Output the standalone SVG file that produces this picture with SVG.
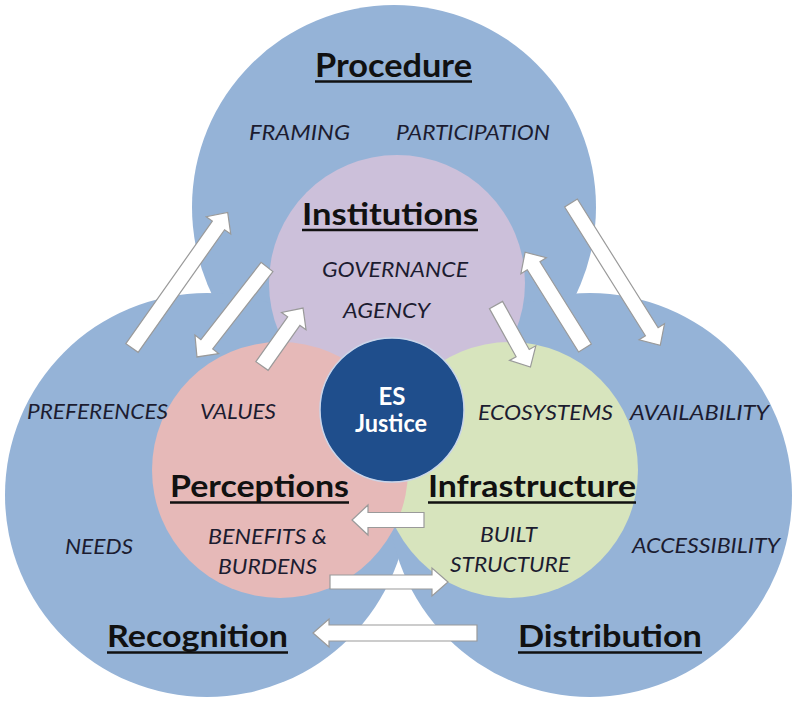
<svg xmlns="http://www.w3.org/2000/svg" width="795" height="702" viewBox="0 0 795 702">
<style>
.blue{fill:#95b3d7}
.title{font-family:Lato,"Open Sans","Liberation Sans",sans-serif;font-weight:bold;font-size:30px;fill:#111}
.lab{font-family:Lato,"Open Sans","Liberation Sans",sans-serif;font-style:italic;font-size:21px;fill:#1c1c30}
.ul{stroke:#111;stroke-width:2.5}
.arr{fill:#fff;stroke:#9a9a9a;stroke-width:1.2;stroke-linejoin:miter}
.es{font-family:Lato,"Open Sans","Liberation Sans",sans-serif;font-weight:bold;font-size:24px;fill:#fff;text-anchor:middle}
</style>
<rect width="795" height="702" fill="#fff"/>
<g id="procedure">
<circle class="blue" cx="394" cy="207" r="202"/>
</g>
<g id="recognition">
<circle class="blue" cx="207" cy="495" r="202"/>
</g>
<g id="distribution">
<circle class="blue" cx="590" cy="495" r="202"/>
</g>
<g id="institutions">
<circle cx="397" cy="283" r="128" fill="#ccc0da"/>
</g>
<g id="infrastructure">
<circle cx="510" cy="470" r="128" fill="#d7e4bd"/>
</g>
<g id="perceptions">
<circle cx="280" cy="470" r="128" fill="#e6b9b8"/>
</g>
<g id="es-justice">
<circle cx="392" cy="410" r="72" fill="#1f4e8c" stroke="#c9d5ea" stroke-width="1.5"/>
<text class="es" x="392" y="405">ES</text>
<text class="es" x="391" y="432" textLength="72" lengthAdjust="spacingAndGlyphs">Justice</text>
</g>
<g id="connectors">
<path class="arr" transform="translate(132,348) rotate(-54.8)" d="M0,-7.5 H150 V-15 L166,0 L150,15 V7.5 H0 Z"/>
<path class="arr" transform="translate(267,267) rotate(127.9)" d="M0,-7.5 H98 V-15 L114,0 L98,15 V7.5 H0 Z"/>
<path class="arr" transform="translate(262,366) rotate(-54.7)" d="M0,-7.5 H55 V-15 L71,0 L55,15 V7.5 H0 Z"/>
<path class="arr" transform="translate(571,203) rotate(57.9)" d="M0,-7.5 H152 V-15 L168,0 L152,15 V7.5 H0 Z"/>
<path class="arr" transform="translate(585,348) rotate(-122)" d="M0,-7.5 H97 V-15 L113,0 L97,15 V7.5 H0 Z"/>
<path class="arr" transform="translate(496,305) rotate(61)" d="M0,-7.5 H55 V-15 L71,0 L55,15 V7.5 H0 Z"/>
<path class="arr" transform="translate(424,520) rotate(180)" d="M0,-7.5 H56 V-15 L72,0 L56,15 V7.5 H0 Z"/>
<path class="arr" transform="translate(330,582)" d="M0,-7 H102 V-14 L118,0 L102,14 V7 H0 Z"/>
<path class="arr" transform="translate(477,633) rotate(180)" d="M0,-8 H148 V-14 L164,0 L148,14 V8 H0 Z"/>
</g>
<g id="labels">
<text class="title" x="315" y="77" textLength="157" lengthAdjust="spacingAndGlyphs" style="font-size:32px">Procedure</text>
<line class="ul" x1="315" y1="81.5" x2="472" y2="81.5"/>
<text class="lab" x="249" y="140" textLength="101" lengthAdjust="spacingAndGlyphs">FRAMING</text>
<text class="lab" x="396" y="140" textLength="154" lengthAdjust="spacingAndGlyphs">PARTICIPATION</text>
<text class="title" x="302" y="225" textLength="176" lengthAdjust="spacingAndGlyphs">Institutions</text>
<line class="ul" x1="302" y1="230" x2="478" y2="230"/>
<text class="lab" x="322" y="277" textLength="146" lengthAdjust="spacingAndGlyphs">GOVERNANCE</text>
<text class="lab" x="343" y="318" textLength="87" lengthAdjust="spacingAndGlyphs">AGENCY</text>
<text class="lab" x="27" y="419" textLength="141" lengthAdjust="spacingAndGlyphs">PREFERENCES</text>
<text class="lab" x="200" y="419" textLength="76" lengthAdjust="spacingAndGlyphs">VALUES</text>
<text class="lab" x="478" y="420" textLength="135" lengthAdjust="spacingAndGlyphs">ECOSYSTEMS</text>
<text class="lab" x="630" y="420" textLength="139" lengthAdjust="spacingAndGlyphs">AVAILABILITY</text>
<text class="title" x="170" y="497" textLength="179" lengthAdjust="spacingAndGlyphs">Perceptions</text>
<line class="ul" x1="170" y1="502.5" x2="349" y2="502.5"/>
<text class="title" x="428" y="497" textLength="208" lengthAdjust="spacingAndGlyphs">Infrastructure</text>
<line class="ul" x1="428" y1="502.5" x2="636" y2="502.5"/>
<text class="lab" x="208" y="544" textLength="119" lengthAdjust="spacingAndGlyphs">BENEFITS &amp;</text>
<text class="lab" x="218" y="574" textLength="99" lengthAdjust="spacingAndGlyphs">BURDENS</text>
<text class="lab" x="480" y="542" textLength="57" lengthAdjust="spacingAndGlyphs">BUILT</text>
<text class="lab" x="450" y="572" textLength="120" lengthAdjust="spacingAndGlyphs">STRUCTURE</text>
<text class="lab" x="65" y="554" textLength="68" lengthAdjust="spacingAndGlyphs">NEEDS</text>
<text class="lab" x="632" y="553" textLength="148" lengthAdjust="spacingAndGlyphs">ACCESSIBILITY</text>
<text class="title" x="107" y="647" textLength="181" lengthAdjust="spacingAndGlyphs">Recognition</text>
<line class="ul" x1="107" y1="652.5" x2="288" y2="652.5"/>
<text class="title" x="518" y="647" textLength="184" lengthAdjust="spacingAndGlyphs">Distribution</text>
<line class="ul" x1="518" y1="652.5" x2="702" y2="652.5"/>
</g>
</svg>
